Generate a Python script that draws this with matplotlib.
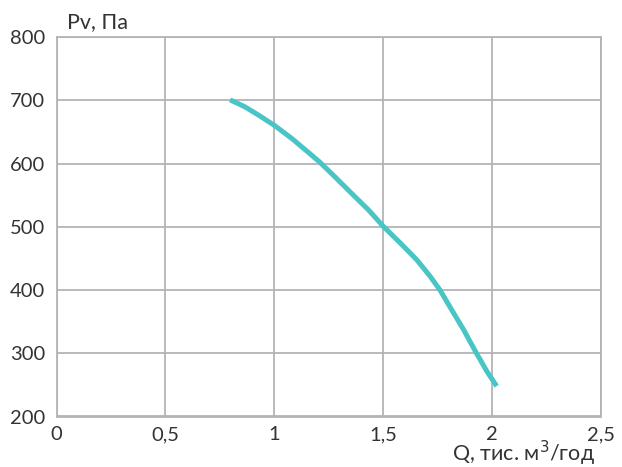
import matplotlib
matplotlib.use('Agg')
import matplotlib.pyplot as plt

plt.rcParams['font.family'] = ['Lato', 'DejaVu Sans']

# fan curve
q = [0.797, 0.865, 0.927, 1.003, 1.080, 1.156, 1.207, 1.279, 1.355, 1.432, 1.500,
     1.577, 1.654, 1.715, 1.761, 1.814, 1.868, 1.922, 1.975, 2.021]
pv = [701, 690, 677, 660, 640, 618, 603, 579, 553, 527, 501,
      475, 448, 422, 400, 369, 338, 304, 272, 248]

x_ticks = [0, 0.5, 1, 1.5, 2, 2.5]
x_labels = ['0', '0,5', '1', '1,5', '2', '2,5']
y_ticks = [200, 300, 400, 500, 600, 700, 800]

grid_col = '#b4b4b8'
text_col = '#333333'

fig = plt.figure(figsize=(6.22, 4.67), dpi=100)
ax = fig.add_axes([56.5/622, 1 - 416.5/467, (601 - 56.5)/622, (416.5 - 37.3)/467])

ax.plot(q, pv, color='#48c5c4', lw=3.6, solid_capstyle='butt',
        solid_joinstyle='round', zorder=3)

ax.set_xlim(0, 2.5)
ax.set_ylim(200, 800)
ax.set_xticks(x_ticks)
ax.set_xticklabels(x_labels)
ax.set_yticks(y_ticks)
ax.grid(True, color=grid_col, lw=1.3)
for s in ax.spines.values():
    s.set_color(grid_col)
    s.set_linewidth(1.3)
ax.tick_params(axis='both', length=0, labelsize=14.5, colors=text_col)
ax.tick_params(axis='y', pad=8)
ax.tick_params(axis='x', pad=7)
for lbl in ax.get_xticklabels() + ax.get_yticklabels():
    lbl.set_color(text_col)

fig.text(67/622, 1 - 22/467, 'Pv, Па', fontsize=15.5, color=text_col, va='center', ha='left')
fig.text(595/622, 1 - 453/467, 'Q, тис. м$^3$/год', fontsize=15.5, color=text_col,
         va='center', ha='right')

fig.savefig('out.png', dpi=100)
